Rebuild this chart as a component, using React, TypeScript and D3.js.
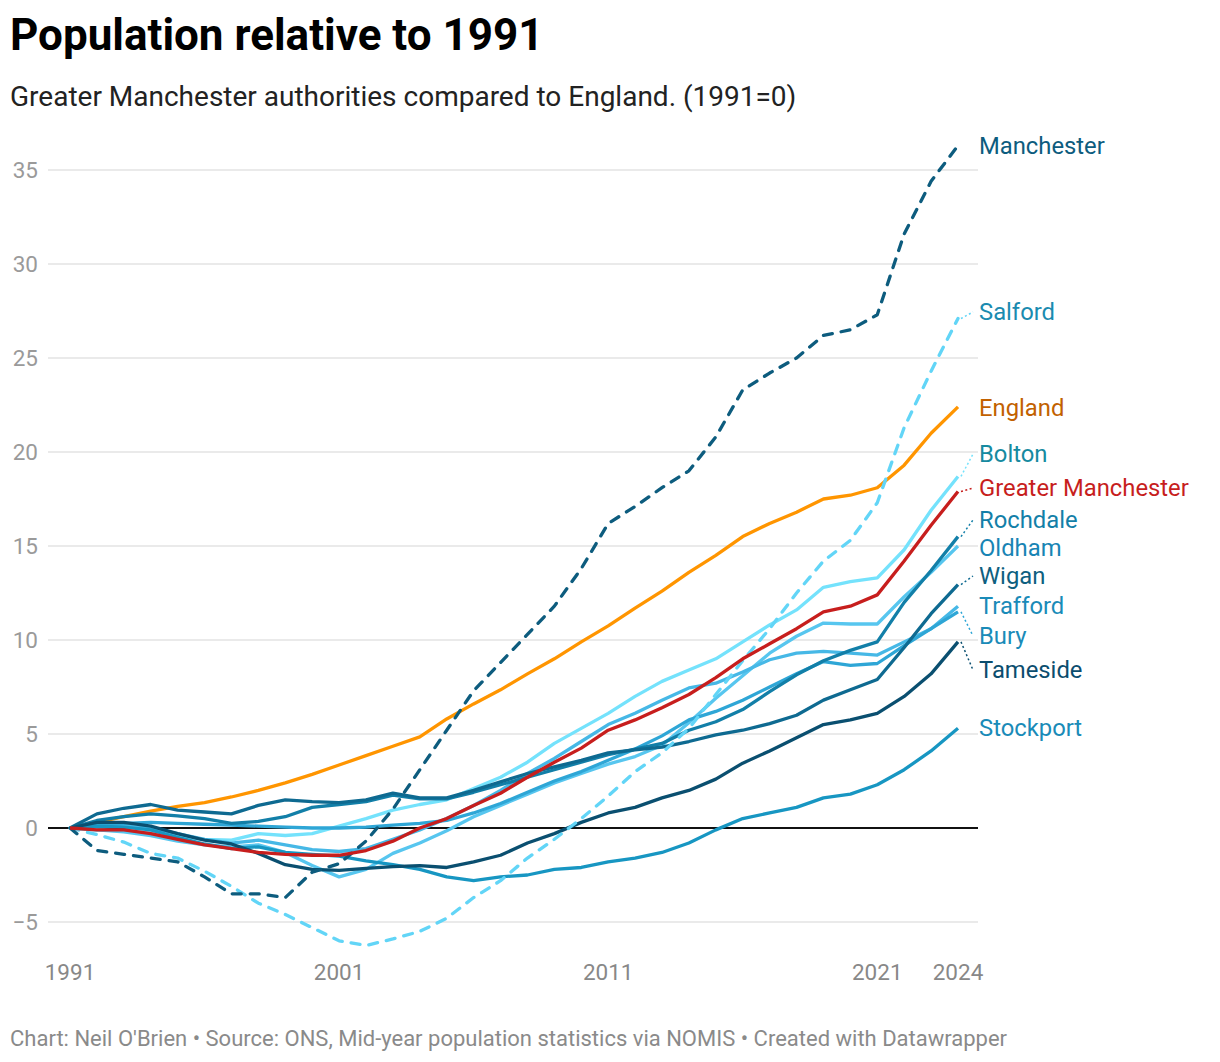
import React, { useEffect } from "react";
import * as d3 from "d3";

const years = d3.range(1991, 2025);

const england = [0,0.3,0.6,0.9,1.15,1.35,1.65,2.0,2.4,2.85,3.35,3.85,4.35,4.85,5.8,6.6,7.35,8.2,9.0,9.9,10.75,11.7,12.6,13.6,14.5,15.5,16.2,16.8,17.5,17.7,18.1,19.3,21.0,22.4];
const manchester = [0,-1.2,-1.4,-1.6,-1.8,-2.6,-3.5,-3.5,-3.7,-2.35,-1.9,-0.7,1.0,3.1,5.2,7.3,8.8,10.3,11.8,13.8,16.2,17.1,18.1,19.0,20.8,23.3,24.2,25.0,26.2,26.5,27.3,31.6,34.4,36.3];
const salford = [0,-0.35,-0.75,-1.35,-1.6,-2.3,-3.1,-4.0,-4.6,-5.3,-6.0,-6.25,-5.9,-5.5,-4.8,-3.7,-2.8,-1.6,-0.6,0.5,1.7,3.0,4.0,5.3,7.1,8.9,10.6,12.5,14.2,15.3,17.3,21.3,24.3,27.1];
const bolton = [0,-0.1,-0.15,-0.25,-0.45,-0.6,-0.65,-0.3,-0.4,-0.3,0.1,0.5,0.95,1.25,1.5,2.1,2.7,3.5,4.5,5.3,6.1,7.0,7.8,8.4,9.0,9.9,10.8,11.6,12.8,13.1,13.3,14.8,16.9,18.7];
const greaterManchester = [0,-0.1,-0.1,-0.3,-0.6,-0.9,-1.1,-1.3,-1.4,-1.45,-1.45,-1.2,-0.7,0.0,0.5,1.2,1.85,2.7,3.5,4.25,5.2,5.75,6.4,7.1,8.0,9.0,9.8,10.6,11.5,11.8,12.4,14.2,16.1,17.9];
const rochdale = [0,0.4,0.6,0.75,0.65,0.5,0.25,0.35,0.6,1.1,1.25,1.4,1.75,1.55,1.55,1.9,2.3,2.7,3.1,3.5,3.9,4.2,4.5,5.2,5.65,6.3,7.25,8.15,8.9,9.45,9.9,12.0,13.7,15.5];
const oldham = [0,-0.1,-0.2,-0.4,-0.7,-0.9,-1.0,-0.9,-1.3,-2.0,-2.6,-2.2,-1.35,-0.8,-0.15,0.6,1.2,1.8,2.4,2.9,3.4,3.8,4.4,5.6,6.9,8.1,9.3,10.2,10.9,10.85,10.85,12.3,13.6,15.0];
const wigan = [0,0.75,1.05,1.25,0.95,0.85,0.75,1.2,1.5,1.4,1.35,1.5,1.85,1.6,1.6,2.0,2.45,2.9,3.25,3.6,4.0,4.15,4.3,4.6,4.95,5.2,5.55,6.0,6.8,7.35,7.9,9.6,11.4,12.95];
const trafford = [0,0.1,0.1,0.0,-0.3,-0.6,-0.8,-0.65,-0.9,-1.15,-1.25,-1.1,-0.6,-0.1,0.5,1.2,2.0,2.9,3.7,4.6,5.5,6.1,6.8,7.45,7.7,8.3,8.95,9.3,9.4,9.3,9.2,9.9,10.6,11.8];
const bury = [0,0.15,0.25,0.3,0.25,0.2,0.15,0.1,0.05,0.0,0.0,0.05,0.15,0.25,0.4,0.8,1.3,1.9,2.5,3.0,3.6,4.2,4.9,5.75,6.2,6.8,7.5,8.2,8.85,8.65,8.75,9.7,10.6,11.5];
const tameside = [0,0.3,0.3,0.1,-0.3,-0.65,-0.85,-1.35,-1.95,-2.2,-2.25,-2.15,-2.05,-2.0,-2.1,-1.8,-1.45,-0.8,-0.3,0.3,0.8,1.1,1.6,2.0,2.6,3.45,4.1,4.8,5.5,5.75,6.1,7.0,8.2,9.9];
const stockport = [0,0.1,0.05,-0.1,-0.5,-0.85,-1.1,-1.0,-1.3,-1.4,-1.5,-1.75,-1.95,-2.2,-2.6,-2.8,-2.6,-2.5,-2.2,-2.1,-1.8,-1.6,-1.3,-0.8,-0.1,0.5,0.8,1.1,1.6,1.8,2.3,3.1,4.1,5.3];

const yTicks = [-5, 0, 5, 10, 15, 20, 25, 30, 35];
const xTicks = [1991, 2001, 2011, 2021, 2024];

// draw order (bottom to top)
const series = [
  { name: "England", values: england, color: "#ff9500", label: "#c26100", dashed: false, labelY: 408 },
  { name: "Bolton", values: bolton, color: "#74e2fc", label: "#168aa0", dashed: false, labelY: 454 },
  { name: "Oldham", values: oldham, color: "#57c6ef", label: "#1884b4", dashed: false, labelY: 548 },
  { name: "Trafford", values: trafford, color: "#46b8e6", label: "#1a8bb8", dashed: false, labelY: 606 },
  { name: "Bury", values: bury, color: "#2ea6d6", label: "#1a8bb8", dashed: false, labelY: 636 },
  { name: "Stockport", values: stockport, color: "#1796c2", label: "#1a8bb8", dashed: false, labelY: 728 },
  { name: "Rochdale", values: rochdale, color: "#127fa8", label: "#137fa8", dashed: false, labelY: 520 },
  { name: "Wigan", values: wigan, color: "#0e6a91", label: "#0e6080", dashed: false, labelY: 576 },
  { name: "Tameside", values: tameside, color: "#0a4f70", label: "#0b4d6e", dashed: false, labelY: 670 },
  { name: "Salford", values: salford, color: "#62d5f7", label: "#1a8bb0", dashed: true, labelY: 312 },
  { name: "Manchester", values: manchester, color: "#0d5c7e", label: "#0d5c7e", dashed: true, labelY: 146 },
  { name: "Greater Manchester", values: greaterManchester, color: "#c71e1d", label: "#c71e1d", dashed: false, labelY: 488 },
];

const W = 1220;
const H = 1062;
const FONT = "Roboto, 'Noto Sans', sans-serif";

export default function App() {
  useEffect(() => {
    document.body.style.margin = "0";
  }, []);

  const x = d3.scaleLinear().domain([1991, 2024]).range([70, 958]);
  const y = d3.scaleLinear().domain([-5, 35]).range([922, 170]);
  const line = d3
    .line<number>()
    .x((_, i) => x(years[i]))
    .y((d) => y(d));

  const labelX = 979;

  return (
    <svg width={W} height={H} style={{ display: "block", background: "#fff" }} fontFamily={FONT}>
      <text x={10} y={50} fontSize={44} fontWeight={700} fill="#000">
        Population relative to 1991
      </text>
      <text x={10} y={106} fontSize={28} fill="#222">
        Greater Manchester authorities compared to England. (1991=0)
      </text>

      {yTicks.map((t) => (
        <g key={t}>
          {t !== 0 && (
            <line x1={48} x2={978} y1={y(t)} y2={y(t)} stroke="#e3e3e3" strokeWidth={1.5} />
          )}
          <text x={38} y={y(t)} dy="0.35em" textAnchor="end" fontSize={22.5} fill="#9a9a9a">
            {t < 0 ? "\u2212" + Math.abs(t) : t}
          </text>
        </g>
      ))}

      {xTicks.map((t) => (
        <text key={t} x={x(t)} y={980} textAnchor="middle" fontSize={22.5} fill="#888">
          {t}
        </text>
      ))}

      <line x1={48} x2={978} y1={y(0)} y2={y(0)} stroke="#111" strokeWidth={2} />

      {series.map((s) => (
        <path
          key={s.name}
          d={line(s.values) || ""}
          fill="none"
          stroke={s.color}
          strokeWidth={3.3}
          strokeLinejoin="round"
          strokeLinecap={s.dashed ? "round" : "butt"}
          strokeDasharray={s.dashed ? "9,9" : undefined}
        />
      ))}

      {series.map((s) => {
        const endY = y(s.values[s.values.length - 1]);
        const dy = s.labelY - endY;
        return (
          <g key={s.name + "-label"}>
            {Math.abs(dy) > 2 && (
              <line
                x1={x(2024) + 3}
                y1={endY}
                x2={labelX - 6}
                y2={s.labelY}
                stroke={s.color}
                strokeWidth={1.5}
                strokeDasharray="2,2.5"
              />
            )}
            <text x={labelX} y={s.labelY} dy="0.35em" fontSize={23.8} fill={s.label}>
              {s.name}
            </text>
          </g>
        );
      })}

      <text x={10} y={1046} fontSize={22} fill="#8a8a8a">
        Chart: Neil O'Brien • Source: ONS, Mid-year population statistics via NOMIS • Created with Datawrapper
      </text>
    </svg>
  );
}
